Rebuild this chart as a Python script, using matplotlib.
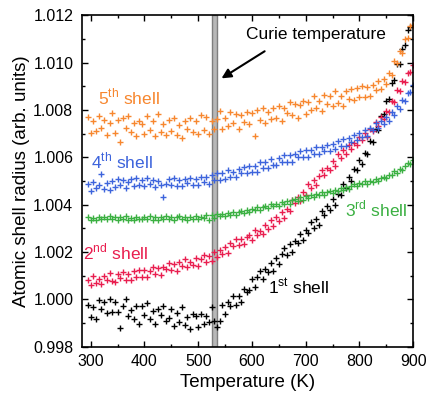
import numpy as np
import matplotlib
matplotlib.use('Agg')
import matplotlib.pyplot as plt
from matplotlib.ticker import MultipleLocator, FormatStrFormatter

plt.rcParams['font.family'] = ['Liberation Sans', 'DejaVu Sans']
plt.rcParams['mathtext.fontset'] = 'custom'
plt.rcParams['mathtext.rm'] = 'Liberation Sans'

# temperature grid (K), 295 ... 900 in 5 K steps
temps = np.arange(295, 901, 5)

# shell radii, in units of 1e-5 above 1.0
shell1 = [-25, -75, -33, -85, -3, -40, -10, -56, 2, -55,
          -11, -52, -120, -29, 0, -71, -43, -84, -30, -106,
          -27, -67, -14, -85, -47, -103, -40, -68, -30, -93,
          -80, -42, -113, -59, -95, -32, -108, -75, -126, -63,
          -69, -115, -61, -103, -70, -95, -34, -93, -116, -90,
          -22, -60, -13, -30, 15, -23, 15, -10, 43, 32,
          40, 88, 52, 96, 121, 85, 130, 115, 155, 120,
          173, 150, 192, 218, 189, 234, 200, 246, 237, 278,
          249, 295, 282, 329, 301, 338, 315, 373, 356, 394,
          377, 425, 401, 447, 443, 489, 470, 518, 501, 549,
          547, 590, 572, 620, 615, 670, 667, 720, 715, 775,
          782, 840, 845, 915, 927, 995, 997, 1060, 1077, 1140,
          1150, 1200]
shell2 = [82, 60, 97, 71, 86, 65, 100, 82, 111, 79,
          73, 107, 91, 116, 84, 108, 80, 118, 96, 126,
          95, 123, 93, 119, 137, 109, 134, 105, 136, 127,
          153, 126, 150, 122, 159, 141, 170, 135, 158, 145,
          173, 142, 171, 186, 158, 183, 161, 201, 180, 210,
          190, 222, 198, 238, 224, 255, 230, 257, 232, 263,
          272, 250, 292, 271, 291, 275, 315, 298, 336, 312,
          347, 330, 370, 344, 384, 373, 420, 406, 434, 415,
          454, 440, 487, 469, 506, 483, 523, 545, 527, 556,
          548, 587, 565, 613, 597, 630, 613, 654, 634, 661,
          651, 687, 672, 703, 686, 720, 712, 748, 734, 769,
          762, 797, 791, 837, 836, 884, 880, 921, 920, 957,
          960, 990]
shell3 = [347, 337, 346, 335, 350, 341, 349, 338, 351, 339,
          349, 336, 347, 340, 352, 337, 345, 335, 348, 341,
          338, 350, 340, 351, 337, 347, 335, 349, 341, 352,
          338, 349, 336, 347, 351, 340, 350, 337, 348, 339,
          351, 338, 350, 342, 356, 335, 355, 346, 360, 351,
          361, 352, 367, 357, 368, 357, 368, 375, 365, 379,
          369, 383, 376, 390, 377, 392, 396, 387, 402, 393,
          404, 395, 411, 402, 414, 405, 419, 424, 416, 431,
          422, 436, 429, 442, 432, 445, 440, 454, 443, 455,
          458, 450, 463, 457, 471, 463, 476, 466, 480, 486,
          479, 493, 486, 499, 489, 502, 497, 510, 502, 515,
          519, 512, 527, 524, 541, 536, 551, 548, 565, 575,
          573, 589]
shell4 = [487, 459, 498, 469, 485, 531, 467, 492, 463, 502,
          474, 508, 482, 503, 471, 496, 507, 480, 513, 483,
          504, 479, 512, 489, 506, 474, 499, 484, 432, 486,
          509, 484, 515, 480, 503, 478, 508, 491, 515, 485,
          507, 483, 518, 495, 517, 489, 525, 503, 535, 506,
          533, 509, 547, 519, 540, 517, 552, 535, 560, 533,
          563, 538, 562, 539, 581, 554, 580, 556, 593, 570,
          567, 597, 580, 609, 582, 612, 582, 613, 601, 629,
          600, 630, 600, 631, 616, 645, 615, 645, 626, 654,
          627, 655, 637, 671, 647, 676, 647, 682, 667, 695,
          673, 705, 687, 715, 692, 726, 715, 745, 726, 755,
          743, 772, 756, 792, 781, 819, 805, 843, 838, 872,
          875, 905]
shell5 = [770, 705, 754, 713, 777, 726, 760, 695, 744, 789,
          703, 758, 665, 766, 725, 774, 708, 747, 692, 756,
          740, 700, 775, 714, 754, 689, 783, 708, 743, 693,
          758, 713, 768, 693, 739, 684, 755, 721, 767, 708,
          754, 699, 781, 717, 769, 700, 752, 719, 761, 798,
          720, 767, 734, 791, 747, 783, 720, 781, 748, 794,
          741, 787, 689, 801, 758, 810, 747, 794, 761, 809,
          766, 818, 756, 809, 787, 835, 778, 826, 768, 821,
          838, 785, 833, 800, 858, 810, 838, 796, 864, 826,
          859, 817, 880, 832, 860, 817, 880, 848, 891, 844,
          892, 855, 904, 857, 896, 859, 908, 883, 924, 890,
          933, 910, 957, 950, 1007, 1000, 1050, 1040, 1100, 1105,
          1155, 1160]

colors = ['black', '#E91E4F', '#3BB042', '#3D64DC', '#F7872F']
labels = ['1$^{\\rm st}$ shell', '2$^{\\rm nd}$ shell', '3$^{\\rm rd}$ shell',
          '4$^{\\rm th}$ shell', '5$^{\\rm th}$ shell']
label_pos = [(687, 1.00054), (347, 1.0020), (832, 1.00381), (358, 1.00583), (371, 1.00857)]

fig = plt.figure(figsize=(4.34, 4.01), dpi=100)
ax = fig.add_axes([0.188, 0.1354, 0.764, 0.826])

# Curie temperature band
ax.axvspan(526, 535, facecolor='#B8B8B8', edgecolor='#7F7F7F', lw=1.0, zorder=1)

for vals, c in zip([shell1, shell2, shell3, shell4, shell5], colors):
    r = 1.0 + np.array(vals) * 1e-5
    ax.plot(temps, r, ls='none', marker='+', ms=4, mew=1.0, color=c, zorder=2)

for (x, y), lab, c in zip(label_pos, labels, colors):
    ax.text(x, y, lab, color=c, fontsize=12.5, ha='center', va='center')

ax.text(719, 1.01118, 'Curie temperature', fontsize=12.5, ha='center', va='center')
ax.annotate('', xy=(539, 1.00928), xytext=(628, 1.01055),
            arrowprops=dict(arrowstyle='-|>', color='black', lw=1.5, mutation_scale=14))

ax.set_xlim(283, 900)
ax.set_ylim(0.998, 1.012)
ax.xaxis.set_major_locator(MultipleLocator(100))
ax.xaxis.set_minor_locator(MultipleLocator(50))
ax.yaxis.set_major_locator(MultipleLocator(0.002))
ax.yaxis.set_minor_locator(MultipleLocator(0.001))
ax.yaxis.set_major_formatter(FormatStrFormatter('%.3f'))
ax.tick_params(which='both', direction='in', top=True, right=True, labelsize=11.5)
ax.tick_params(which='major', length=4.5, width=1)
ax.tick_params(which='minor', length=2.5, width=1)
ax.tick_params(axis='x', which='major', pad=5.5)
ax.tick_params(axis='y', which='major', pad=6)
for s in ax.spines.values():
    s.set_linewidth(1.2)

ax.set_xlabel('Temperature (K)', fontsize=13.5, labelpad=3)
ax.set_ylabel('Atomic shell radius (arb. units)', fontsize=13.5, labelpad=2)

fig.savefig('out.png', dpi=100)
